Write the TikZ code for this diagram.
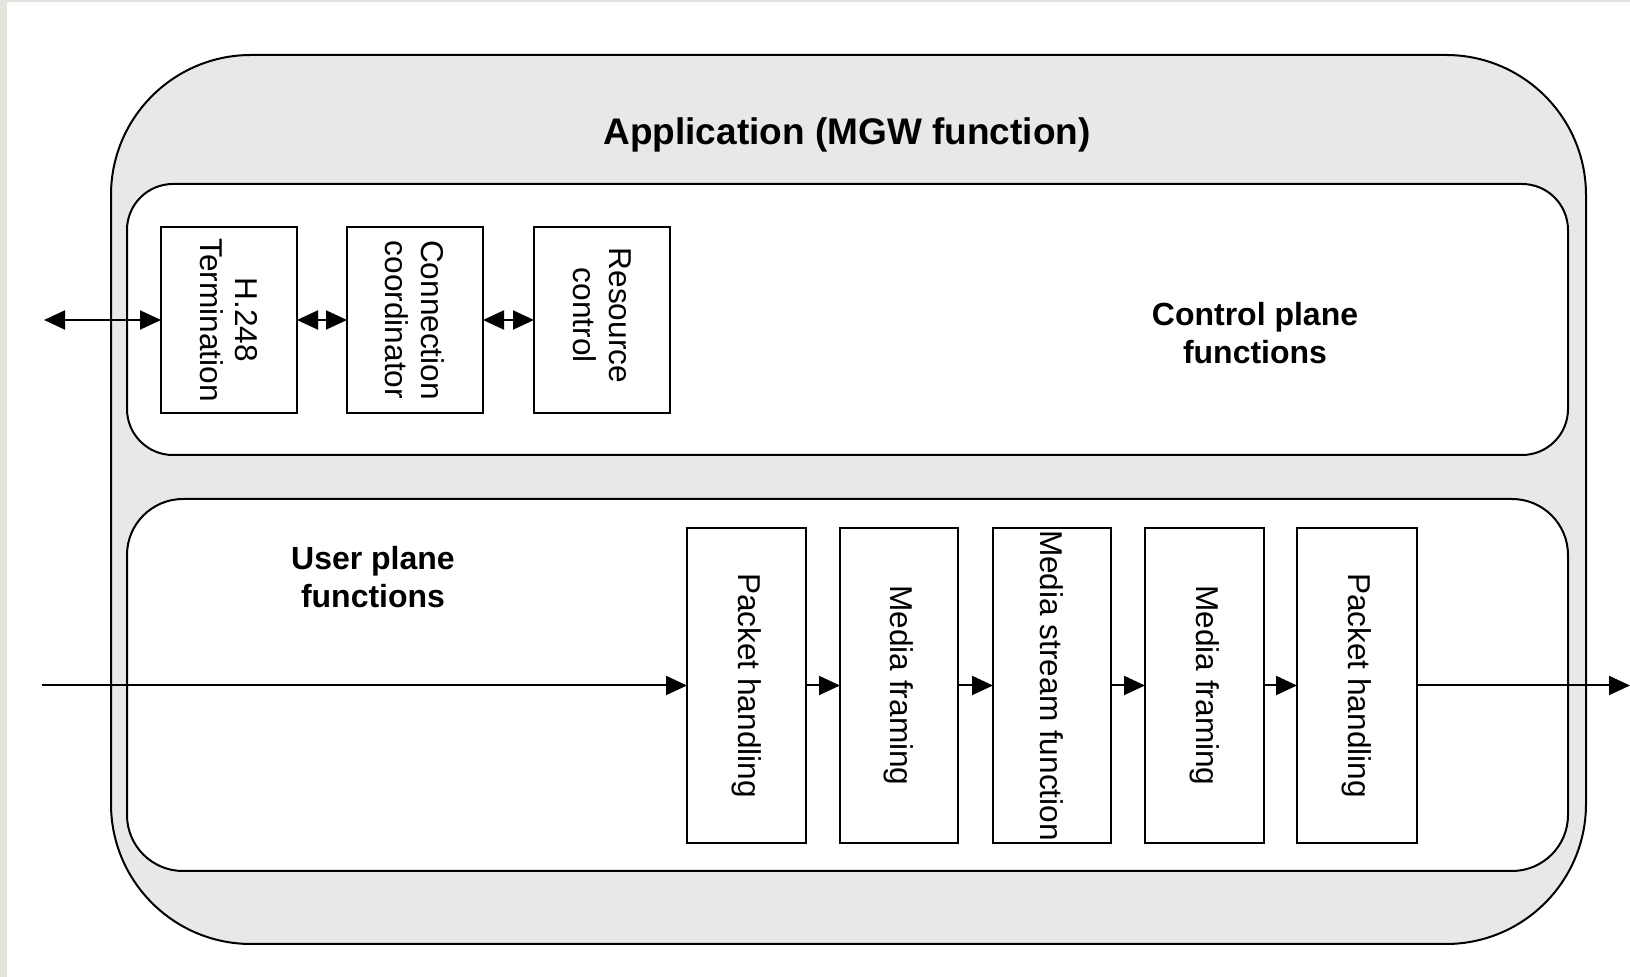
\documentclass[tikz,border=0pt]{standalone}
\usepackage{fontspec}
\setmainfont{Liberation Sans}
\usetikzlibrary{arrows.meta,fit}
\definecolor{outerfill}{HTML}{E8E8E8}
\definecolor{stripe}{HTML}{E5E3DD}
\begin{document}
\begin{tikzpicture}[x=0.5pt,y=-0.5pt,
  container/.style={draw=black, line width=1pt, inner sep=0pt, outer sep=0pt},
  fbox/.style={draw=black, line width=0.9pt, fill=white, inner sep=0pt, outer sep=0pt},
  vlabel/.style={rotate=-90, align=center, font=\fontsize{15.8}{17.8}\selectfont, inner sep=0pt},
  plane/.style={align=center, font=\bfseries\fontsize{16}{19.3}\selectfont, inner sep=0pt},
  tip/.tip={Triangle[length=10.5pt,width=9.5pt]},
  conn/.style={line width=1pt, -tip},
  biconn/.style={line width=1pt, tip-tip}
]
\useasboundingbox (0,0) rectangle (1630,977);
\fill[white] (0,0) rectangle (1630,977);
\fill[stripe] (0,0) rectangle (7,977);
\fill[stripe] (0,0) rectangle (1630,2);

% containers
\node[container, fill=outerfill, rounded corners=70pt, fit={(111,55) (1586,944)}] (app) {};
\node[container, fill=white, rounded corners=23pt, fit={(127,184) (1568,455)}] (cp) {};
\node[container, fill=white, rounded corners=28pt, fit={(127,499) (1568,871)}] (up) {};

\node[font=\bfseries\fontsize{18.5}{22}\selectfont, inner sep=0pt] (title) at (847,135) {Application (MGW function)};
\node[plane] (cplabel) at (1255,333) {Control plane\\functions};
\node[plane] (uplabel) at (373,577) {User plane\\functions};

% control plane boxes
\node[fbox, fit={(161,227) (297,413)}] (h248) {};
\node[fbox, fit={(347,227) (483,413)}] (coord) {};
\node[fbox, fit={(534,227) (670,413)}] (res) {};
\node[vlabel] (h248t) at (h248.center) {H.248\\Termination};
\node[vlabel] (coordt) at (coord.center) {Connection\\coordinator};
\node[vlabel] (rest) at ([yshift=2.3pt]res.center) {Resource\\control};

% user plane boxes
\node[fbox, fit={(687,528) (806,843)}] (p1) {};
\node[fbox, fit={(840,528) (958,843)}] (m1) {};
\node[fbox, fit={(993,528) (1111,843)}] (ms) {};
\node[fbox, fit={(1145,528) (1264,843)}] (m2) {};
\node[fbox, fit={(1297,528) (1417,843)}] (p2) {};
\node[vlabel] (p1t) at (p1.center) {Packet handling};
\node[vlabel] (m1t) at (m1.center) {Media framing};
\node[vlabel] (mst) at (ms.center) {Media stream function};
\node[vlabel] (m2t) at (m2.center) {Media framing};
\node[vlabel] (p2t) at (p2.center) {Packet handling};

% connectors
\coordinate (cin) at (44,320);
\coordinate (uin) at (42,0);
\coordinate (uout) at (1630,0);
\draw[biconn] (h248.west -| cin) -- (h248.west);
\draw[biconn] (h248.east) -- (coord.west);
\draw[biconn] (coord.east) -- (res.west);
\draw[conn] (p1.west -| uin) -- (p1.west);
\draw[conn] (p1.east) -- (m1.west);
\draw[conn] (m1.east) -- (ms.west);
\draw[conn] (ms.east) -- (m2.west);
\draw[conn] (m2.east) -- (p2.west);
\draw[conn] (p2.east) -- (p2.east -| uout);
\end{tikzpicture}
\end{document}
